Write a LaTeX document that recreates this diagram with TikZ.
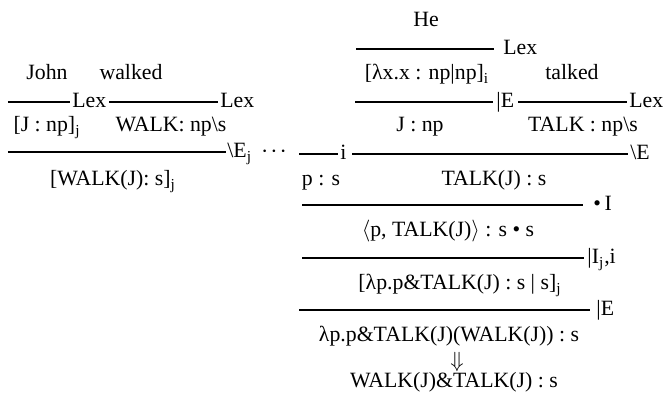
\documentclass[tikz,border=0pt]{standalone}
\usepackage{fontspec}
\setmainfont{Liberation Serif}
\usepackage{amsmath}
\usepackage{tikz}
\usetikzlibrary{positioning}

\begin{document}
\begin{tikzpicture}[
    x=0.5pt, y=-0.5pt,
    font=\fontsize{10.9}{13}\selectfont,
    word/.style={anchor=base, inner sep=0pt},
    tag/.style={anchor=base west, inner sep=0pt},
    bar/.style={line width=0.8pt}
]
    \useasboundingbox (0,0) rectangle (666,411);

    % Left derivation: John walked
    \node[word] (john) at (47,80) {John};
    \node[word] (walked) at (131,80) {walked};
    \coordinate (la1) at (8,102);   \coordinate (lb1) at (70,102);
    \coordinate (la2) at (109,102); \coordinate (lb2) at (218,102);
    \draw[bar] (la1) -- (lb1);
    \draw[bar] (la2) -- (lb2);
    \node[tag] (lexj) at (72,108) {Lex};
    \node[tag] (lexw) at (220,108) {Lex};
    \node[word] (jnpj) at (47,132) {[J : np]\textsubscript{j}};
    \node[word] (walknp) at (171,132) {WALK: np\textbackslash s};
    \coordinate (la3) at (8,152); \coordinate (lb3) at (226,152);
    \draw[bar] (la3) -- (lb3);
    \node[tag] (elimj) at (227,158) {\textbackslash E\textsubscript{j}};
    \node[word] (walkj) at (113,186) {[WALK(J): s]\textsubscript{j}};

    \node[word] (dots) at (274,159) {·\hspace{1pt}·\hspace{1pt}·};

    % Right derivation: He talked
    \node[word] (he) at (426,27) {He};
    \coordinate (ra1) at (356,49); \coordinate (rb1) at (494,49);
    \draw[bar] (ra1) -- (rb1);
    \node[tag] (lexhe) at (503,55) {Lex};
    \node[word] (lamx) at (427,80) {[λx.x : np|np]\textsubscript{i}};
    \node[word] (talked) at (572,80) {talked};
    \coordinate (ra2) at (355,102); \coordinate (rb2) at (493,102);
    \coordinate (rc2) at (518,102); \coordinate (rd2) at (627,102);
    \draw[bar] (ra2) -- (rb2);
    \draw[bar] (rc2) -- (rd2);
    \node[tag] (elimhe) at (496,108) {|E};
    \node[tag] (lext) at (629,108) {Lex};
    \node[word] (jnp) at (420,132) {J : np};
    \node[word] (talknp) at (583,132) {TALK : np\textbackslash s};
    \coordinate (ra3) at (299,154); \coordinate (rb3) at (338,154);
    \coordinate (rc3) at (352,154); \coordinate (rd3) at (628,154);
    \draw[bar] (ra3) -- (rb3);
    \draw[bar] (rc3) -- (rd3);
    \node[tag] (hypi) at (340,160) {i};
    \node[tag] (elimt) at (630,160) {\textbackslash E};
    \node[word] (ps) at (321,186) {p : s};
    \node[word] (talkj) at (494,186) {TALK(J) : s};

    % Pairing and abstraction
    \coordinate (ra4) at (302,205); \coordinate (rb4) at (583,205);
    \draw[bar] (ra4) -- (rb4);
    \node[tag] (introp) at (593,211) {•\,I};
    \node[word] (pair) at (448,237) {$\langle$p, TALK(J)$\rangle$ : s • s};
    \coordinate (ra5) at (302,258); \coordinate (rb5) at (584,258);
    \draw[bar] (ra5) -- (rb5);
    \node[tag] (introb) at (587,264) {|I\textsubscript{j},i};
    \node[word] (abst) at (460,290) {[λp.p\&TALK(J) : s | s]\textsubscript{j}};
    \coordinate (ra6) at (299,310); \coordinate (rb6) at (590,310);
    \draw[bar] (ra6) -- (rb6);
    \node[tag] (elimb) at (596,316) {|E};
    \node[word] (appl) at (449,342) {λp.p\&TALK(J)(WALK(J)) : s};
    \node (down) at (457,362) {$\Downarrow$};
    \node[word] (result) at (454,388) {WALK(J)\&TALK(J) : s};
\end{tikzpicture}
\end{document}
